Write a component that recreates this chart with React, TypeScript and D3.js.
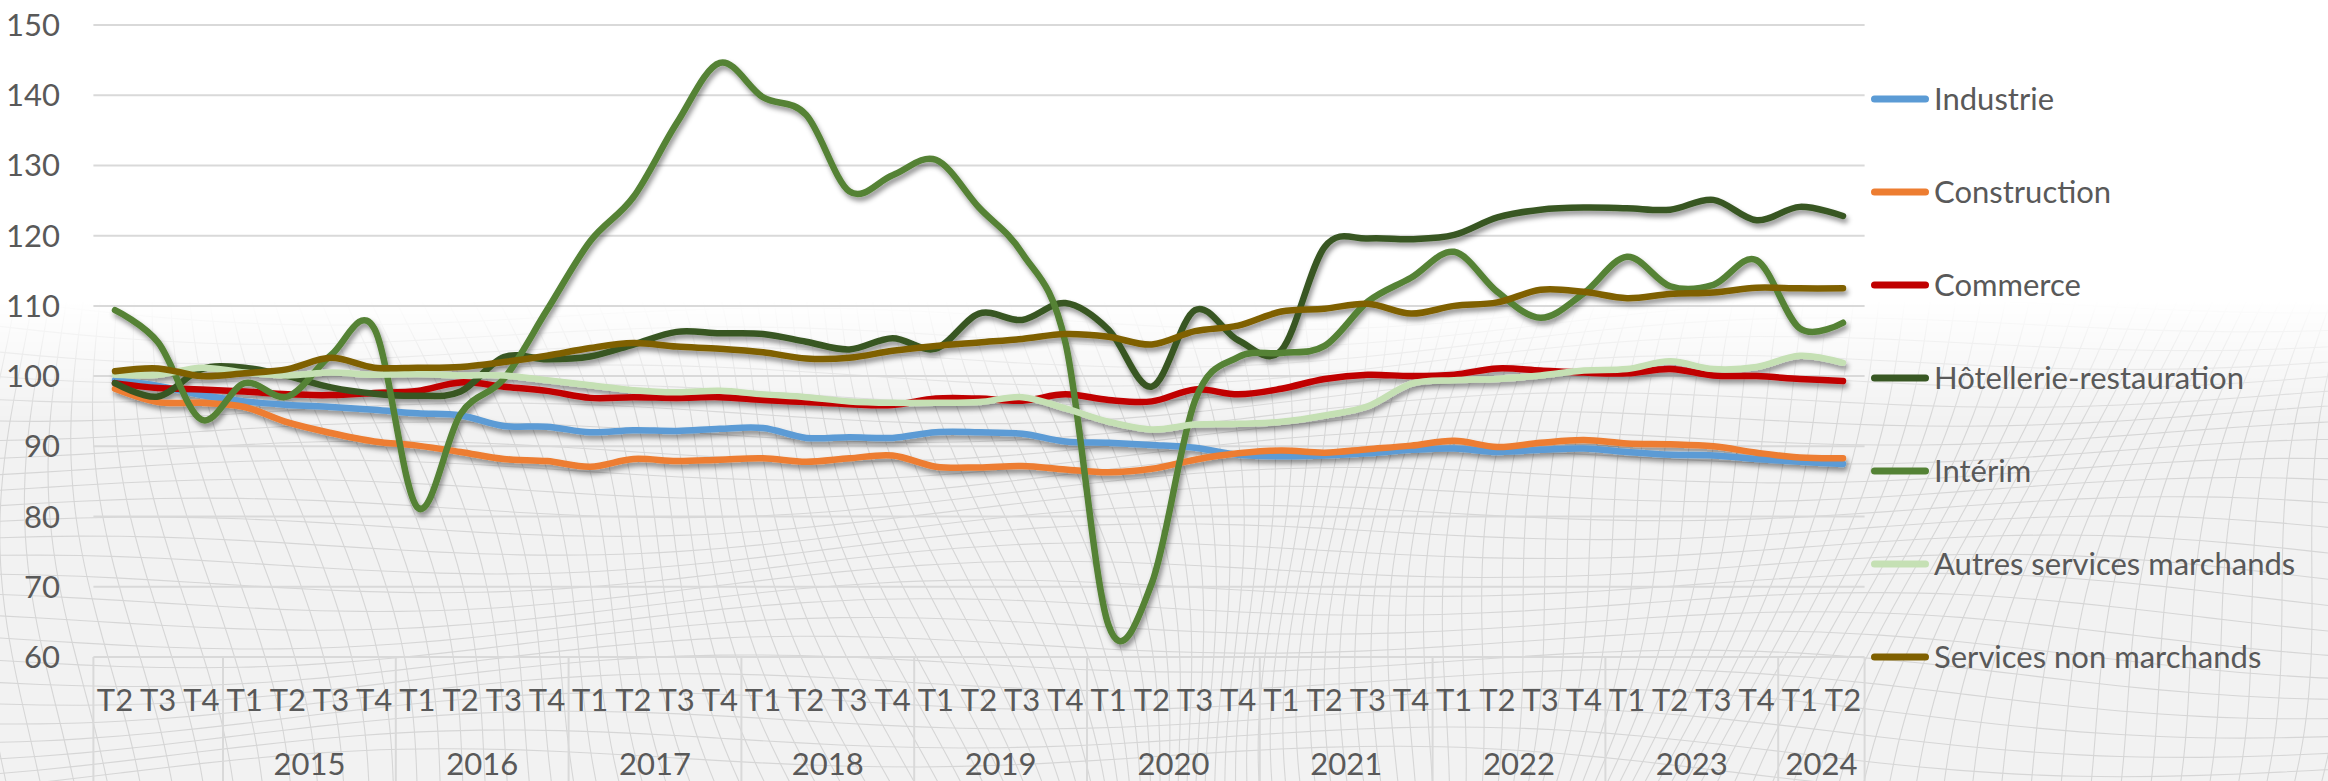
import React from "react";
import * as d3 from "d3";

const W = 2328;
const H = 781;

// ---- categories ----
const quarters = [
  "T2", "T3", "T4",
  "T1", "T2", "T3", "T4",
  "T1", "T2", "T3", "T4",
  "T1", "T2", "T3", "T4",
  "T1", "T2", "T3", "T4",
  "T1", "T2", "T3", "T4",
  "T1", "T2", "T3", "T4",
  "T1", "T2", "T3", "T4",
  "T1", "T2", "T3", "T4",
  "T1", "T2", "T3", "T4",
  "T1", "T2",
];
const years = ["", "2015", "2016", "2017", "2018", "2019", "2020", "2021", "2022", "2023", "2024"];
const yearSizes = [3, 4, 4, 4, 4, 4, 4, 4, 4, 4, 2];
const yTicks = [60, 70, 80, 90, 100, 110, 120, 130, 140, 150];

// ---- series values ----
const industrie = [
  99.4, 98.6, 97.3, 96.4, 95.9, 95.6, 95.2, 94.7, 94.4, 92.9, 92.8, 92.0, 92.3, 92.2, 92.5, 92.6,
  91.2, 91.3, 91.2, 92.0, 92.0, 91.8, 90.7, 90.5, 90.2, 89.8, 88.8, 88.6, 88.7, 89.0, 89.5, 89.7,
  89.2, 89.5, 89.7, 89.2, 88.8, 88.7, 88.2, 87.8, 87.5,
];
const construction = [
  98.2, 96.3, 96.2, 95.6, 93.4, 91.9, 90.7, 90.1, 89.2, 88.2, 87.9, 87.1, 88.2, 87.9, 88.1, 88.3,
  87.8, 88.3, 88.7, 87.1, 87.0, 87.2, 86.7, 86.3, 86.8, 88.1, 89.0, 89.4, 89.1, 89.6, 90.1, 90.8,
  89.9, 90.5, 90.9, 90.4, 90.3, 90.0, 89.1, 88.4, 88.3,
];
const commerce = [
  99.0, 98.3, 98.1, 97.8, 97.4, 97.3, 97.6, 97.9, 99.1, 98.5, 97.9, 96.9, 97.0, 96.9, 97.0, 96.6,
  96.3, 96.0, 95.9, 96.8, 96.8, 96.5, 97.4, 96.6, 96.4, 98.1, 97.4, 98.2, 99.6, 100.2, 100.0, 100.2,
  101.1, 100.8, 100.5, 100.4, 101.0, 100.1, 100.0, 99.6, 99.3,
];
const hotellerie = [
  99.0, 97.1, 101.0, 101.2, 100.0, 98.4, 97.5, 97.2, 97.8, 102.7, 102.4, 102.8, 104.5, 106.3, 106.1, 106.0,
  104.9, 103.8, 105.4, 103.9, 108.9, 108.0, 110.4, 106.6, 98.5, 109.4, 105.1, 103.7, 118.4, 119.6, 119.5, 120.1,
  122.6, 123.7, 124.0, 123.9, 123.7, 125.1, 122.2, 124.1, 122.8,
];
const interim = [
  109.4, 104.8, 93.8, 99.0, 97.1, 103.0, 106.8, 81.3, 94.6, 99.6, 109.4, 119.2, 125.5, 136.0, 144.6, 139.7,
  137.2, 126.3, 128.6, 130.8, 124.0, 117.5, 104.8, 64.5, 70.5, 96.5, 102.7, 103.3, 104.3, 110.6, 114.0, 117.7,
  112.0, 108.3, 111.8, 117.0, 112.8, 113.0, 116.5, 106.8, 107.6,
];
const autresServices = [
  100.2, 100.2, 101.2, 100.5, 100.1, 100.5, 100.2, 100.3, 100.1, 100.1, 99.4, 98.7, 98.0, 97.7, 97.9, 97.4,
  97.0, 96.4, 96.2, 96.2, 96.3, 97.0, 95.4, 93.5, 92.4, 93.1, 93.2, 93.5, 94.4, 95.7, 98.9, 99.4,
  99.6, 100.1, 100.8, 101.0, 102.1, 101.0, 101.3, 102.9, 101.9,
];
const servicesNonMarchands = [
  100.7, 101.1, 100.0, 100.4, 101.0, 102.6, 101.2, 101.2, 101.3, 102.0, 102.9, 104.0, 104.7, 104.2, 103.9, 103.4,
  102.5, 102.6, 103.6, 104.3, 104.8, 105.3, 106.0, 105.6, 104.5, 106.4, 107.2, 109.2, 109.6, 110.3, 108.9, 110.0,
  110.5, 112.3, 112.0, 111.1, 111.7, 111.9, 112.6, 112.5, 112.5,
];

const seriesNames = [
  "Industrie",
  "Construction",
  "Commerce",
  "Hôtellerie-restauration",
  "Intérim",
  "Autres services marchands",
  "Services non marchands",
];
const seriesValues = [industrie, construction, commerce, hotellerie, interim, autresServices, servicesNonMarchands];
const seriesColors = ["#5B9BD5", "#ED7D31", "#C00000", "#385723", "#548235", "#C5E0B4", "#7F6000"];

// ---- layout ----
const plotLeft = 93.4;
const plotRight = 1864.6;
const plotTop = 25;
const plotBottom = 657;
const textColor = "#595959";
const gridColor = "#d9d9d9";
const FONT = "Lato, 'Open Sans', sans-serif";
const FS = 31;

function buildMesh() {
  // purely decorative background texture (wavy wireframe)
  const paths: string[] = [];
  const line = d3.line<[number, number]>().curve(d3.curveBasis);
  for (let k = 0; k < 26; k++) {
    const pts: [number, number][] = [];
    for (let x = -40; x <= W + 40; x += 40) {
      const y = 300 + k * 19 + 14 * Math.sin(x / 170 + k * 0.35) + 22 * Math.sin(x / 560 + k * 0.12);
      pts.push([x, y]);
    }
    paths.push(line(pts) as string);
  }
  for (let j = -30; j < 130; j++) {
    const pts: [number, number][] = [];
    for (let y = 280; y <= H + 20; y += 30) {
      const x = j * 21 + 26 * Math.sin(y / 120 + j * 0.18) + (y - 280) * 0.35 * Math.sin(j * 0.05);
      pts.push([x, y]);
    }
    paths.push(line(pts) as string);
  }
  return paths;
}

export default function App() {
  const idx = d3.range(quarters.length);
  const x = d3.scaleBand<number>().domain(idx).range([plotLeft, plotRight]).paddingInner(0).paddingOuter(0);
  const bw = x.bandwidth();
  const cx = (i: number) => (x(i) as number) + bw / 2;
  const y = d3.scaleLinear().domain([60, 150]).range([plotBottom, plotTop]);

  const lineGen = d3
    .line<number>()
    .x((_, i) => cx(i))
    .y((d) => y(d))
    .curve(d3.curveCardinal.tension(0));

  const starts: number[] = [];
  let acc = 0;
  yearSizes.forEach((s) => {
    starts.push(acc);
    acc += s;
  });
  const boundaries = [...starts.map((s) => x(s) as number), plotRight];

  const mesh = buildMesh();
  const legendY = d3.range(seriesNames.length).map((i) => 99 + i * 93);

  return (
    <svg
      width={W}
      height={H}
      style={{ position: "absolute", left: 0, top: 0, background: "#ffffff" }}
      fontFamily={FONT}
    >
      <defs>
        <filter id="shadow" filterUnits="userSpaceOnUse" x={0} y={0} width={W} height={H}>
          <feDropShadow dx={2} dy={4} stdDeviation={2.5} floodColor="#000" floodOpacity={0.42} />
        </filter>
        <linearGradient id="fade" gradientUnits="userSpaceOnUse" x1={0} y1={300} x2={0} y2={420}>
          <stop offset="0" stopColor="#fff" stopOpacity={0} />
          <stop offset="1" stopColor="#fff" stopOpacity={1} />
        </linearGradient>
        <mask id="meshMask" maskUnits="userSpaceOnUse" x={0} y={0} width={W} height={H}>
          <rect x={0} y={0} width={W} height={H} fill="url(#fade)" />
        </mask>
      </defs>

      {/* decorative background */}
      <g mask="url(#meshMask)">
        <rect x={0} y={280} width={W} height={H - 280} fill="#f2f2f2" />
        {mesh.map((d, i) => (
          <path key={i} d={d} fill="none" stroke="#d6d6d6" strokeWidth={1.1} />
        ))}
      </g>

      {/* gridlines */}
      {yTicks.map((t) => (
        <line key={t} x1={plotLeft} x2={plotRight} y1={y(t)} y2={y(t)} stroke={gridColor} strokeWidth={2} />
      ))}

      {/* category group separators */}
      {boundaries.map((bx, i) => (
        <line key={i} x1={bx} x2={bx} y1={plotBottom} y2={H} stroke={gridColor} strokeWidth={2} />
      ))}

      {/* y tick labels */}
      {yTicks.map((t) => (
        <text key={t} x={60} y={y(t) + 11} textAnchor="end" fontSize={FS} fill={textColor}>
          {t}
        </text>
      ))}

      {/* quarter labels */}
      {quarters.map((q, i) => (
        <text key={i} x={cx(i)} y={711} textAnchor="middle" fontSize={FS} fill={textColor}>
          {q}
        </text>
      ))}

      {/* year labels */}
      {years.map((yr, i) => {
        const a = boundaries[i];
        const b = boundaries[i + 1];
        return (
          <text key={i} x={(a + b) / 2} y={775} textAnchor="middle" fontSize={FS} fill={textColor}>
            {yr}
          </text>
        );
      })}

      {/* series */}
      <g filter="url(#shadow)">
        {seriesValues.map((vals, s) => (
          <path
            key={s}
            d={lineGen(vals) as string}
            fill="none"
            stroke={seriesColors[s]}
            strokeWidth={6.5}
            strokeLinecap="round"
            strokeLinejoin="round"
          />
        ))}
      </g>

      {/* legend */}
      {seriesNames.map((name, i) => (
        <g key={name}>
          <line
            x1={1874.5}
            x2={1925.5}
            y1={legendY[i]}
            y2={legendY[i]}
            stroke={seriesColors[i]}
            strokeWidth={7}
            strokeLinecap="round"
          />
          <text x={1934} y={legendY[i] + 11} fontSize={FS} fill={textColor}>
            {name}
          </text>
        </g>
      ))}
    </svg>
  );
}
